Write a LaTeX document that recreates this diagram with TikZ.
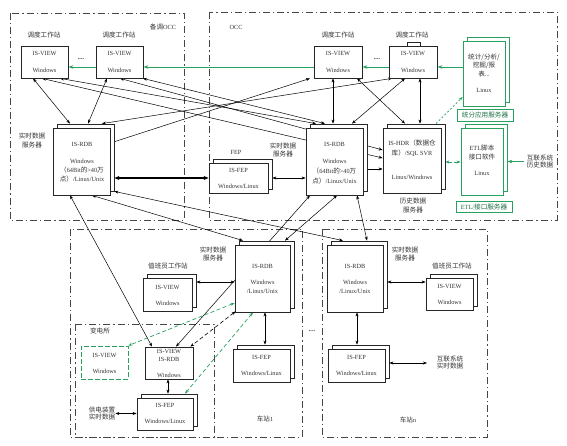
\documentclass[tikz,border=0pt]{standalone}
\usepackage{fontspec}
\setmainfont{Liberation Serif}
\newfontfamily\cjkfont{Noto Sans CJK SC}
\newcommand\zh[1]{{\cjkfont\fontsize{6.6}{7}\selectfont #1}}
\usetikzlibrary{arrows.meta}
\pgfdeclarelayer{bg}
\pgfsetlayers{bg,main}
\definecolor{grn}{RGB}{40,160,95}
\definecolor{reg}{RGB}{70,70,70}
\newcommand\bx[6]{\node[#1, minimum width=#5pt, minimum height=#6pt] (#2) at (#3,#4) {};}
\newcommand\stk[6]{\node[#1, minimum width=#5pt, minimum height=#6pt] (#2b) at (#3+4,#4-4) {};\node[#1, minimum width=#5pt, minimum height=#6pt] (#2) at (#3,#4) {};}
\tikzset{
 box/.style={draw=black!85, fill=white, line width=0.8pt, inner sep=0pt},
 gbox/.style={draw=grn, fill=white, line width=0.8pt, inner sep=0pt},
 gdbox/.style={draw=grn, fill=white, line width=0.9pt, inner sep=0pt, dash pattern=on 5pt off 2pt},
 txt/.style={inner sep=0pt, font=\fontsize{6.3}{7}\selectfont, text=black!80},
 region/.style={draw=reg, line width=0.8pt, dash pattern=on 7pt off 3pt on 1.2pt off 3pt},
 tip/.tip={Stealth[length=4pt,width=3pt]},
 arr/.style={line width=0.5pt, tip-tip},
 arrr/.style={line width=0.5pt, -tip},
 arrb/.style={line width=1.2pt, {Stealth[length=5pt,width=4pt]}-{Stealth[length=5pt,width=4pt]}},
 garr/.style={draw=grn, line width=0.8pt, -{Stealth[length=5pt,width=3.5pt]}, color=grn},
 gdot/.style={draw=grn, line width=0.7pt, dash pattern=on 2pt off 2pt, -{Stealth[length=4pt,width=3pt]}, color=grn},
 gdash/.style={draw=grn, line width=0.7pt, dash pattern=on 4pt off 2.5pt, tip-tip, color=grn},
 kdash/.style={draw=black, line width=0.6pt, dash pattern=on 4pt off 2.5pt, tip-tip},
}
\begin{document}
\begin{tikzpicture}[x=1pt,y=-1pt]
\useasboundingbox (0,0) rectangle (567,446);
% ---------- boxes ----------
\bx{box}{v1}{44.5}{62}{47}{32}
\bx{box}{v2}{119.5}{62}{47}{32}
\bx{box}{v3}{338}{62}{48}{32}
\node[box, minimum width=13pt, minimum height=4pt] (v4tab) at (413.5,44) {};
\bx{box}{v4}{413}{62}{48}{32}
\stk{gbox}{stats}{484}{73.5}{42}{65}
\node[gbox, minimum width=56pt, minimum height=12pt] (statl) at (485,115) {};
\stk{box}{rdbB}{81.5}{161.5}{57}{67}
\stk{box}{fepO}{238.5}{178}{59}{30}
\stk{box}{rdbO}{334.5}{161.5}{57}{67}
\stk{box}{hdr}{412}{160.5}{58}{65}
\stk{gbox}{etl}{482}{161.5}{42}{67}
\node[gbox, minimum width=56pt, minimum height=11pt] (etll) at (484,206.5) {};
\stk{box}{st1V}{167.5}{294.5}{49}{33}
\stk{box}{st1R}{262.5}{278.5}{55}{67}
\stk{box}{st1F}{261.5}{365.5}{57}{33}
\stk{box}{stnR}{355}{278.5}{56}{67}
\stk{box}{stnV}{449.5}{294}{47}{32}
\stk{box}{stnF}{356.5}{365.5}{57}{33}
\bx{gdbox}{subGV}{104.5}{362.5}{47}{33}
\bx{box}{subVR}{169}{363}{48}{32}
\stk{box}{subF}{165}{414}{56}{32}
% ---------- texts ----------
\node[txt] (bkl) at (163,27) {\zh{备调}OCC};
\node[txt] (occl) at (236,27) {OCC};
\node[txt] (w1l) at (44,35) {\zh{调度工作站}};
\node[txt] (w2l) at (119,35) {\zh{调度工作站}};
\node[txt] (w3l) at (338,35) {\zh{调度工作站}};
\node[txt] (w4l) at (412,35) {\zh{调度工作站}};
\foreach \n/\x in {v1/44.5, v2/119.5, v3/338, v4/413}{
 \node[txt] (\n t1) at (\x,53) {IS-VIEW};
 \node[txt] (\n t2) at (\x,70) {Windows};
}
\node[txt] (dotsA) at (81,59.5) {\textbf{....}};
\node[txt] (dotsB) at (377,59.5) {\textbf{....}};
\node[txt] (st1) at (484,57) {\zh{统计/分析/}};
\node[txt] (st2) at (484,65.5) {\zh{挖掘/报}};
\node[txt] (st3) at (484,74) {\zh{表}...};
\node[txt] (st4) at (484,90) {Linux};
\node[txt, text=grn!70!black] (statlt) at (statl) {\zh{统分应用服务器}};
\node[txt] (rbl1) at (32,136) {\zh{实时数据}};
\node[txt] (rbl2) at (32,145) {\zh{服务器}};
\node[txt] (rb1) at (82,144) {IS-RDB};
\node[txt] (rb2) at (82,161) {Windows};
\node[txt] (rb3) at (82,170) {\zh{（}64Bit\zh{的}\textgreater40\zh{万}};
\node[txt] (rb4) at (82,179) {\zh{点）}/Linux/Unix};
\node[txt] (fepl) at (236,152) {FEP};
\node[txt] (fo1) at (238.5,170) {IS-FEP};
\node[txt] (fo2) at (238.5,186) {Windows/Linux};
\node[txt] (rol1) at (283,146) {\zh{实时数据}};
\node[txt] (rol2) at (283,154) {\zh{服务器}};
\node[txt] (ro1) at (334.5,144) {IS-RDB};
\node[txt] (ro2) at (334.5,161) {Windows};
\node[txt] (ro3) at (334.5,171) {\zh{（}64Bit\zh{的}\textgreater40\zh{万}};
\node[txt] (ro4) at (334.5,181) {\zh{点）}/Linux/Unix};
\node[txt] (h1) at (412,143) {IS-HDR\zh{（数据仓}};
\node[txt] (h2) at (412,153) {\zh{库）}/SQL SVR};
\node[txt] (h3) at (412,177) {Linux/Windows};
\node[txt] (hl1) at (413,201) {\zh{历史数据}};
\node[txt] (hl2) at (413,210) {\zh{服务器}};
\node[txt] (e1) at (482,148) {ETL\zh{脚本}};
\node[txt] (e2) at (482,157) {\zh{接口软件}};
\node[txt] (e3) at (482,173) {Linux};
\node[txt, text=grn!70!black] (etllt) at (etll) {ETL/\zh{接口服务器}};
\node[txt, align=center] (hist) at (540,161.5) {\zh{互联系统}\\[-0.5pt]\zh{历史数据}};
% station 1
\node[txt] (s1l1) at (213,250) {\zh{实时数据}};
\node[txt] (s1l2) at (213,258) {\zh{服务器}};
\node[txt] (s1vl) at (168,266) {\zh{值班员工作站}};
\node[txt] (s1v1) at (167.5,287) {IS-VIEW};
\node[txt] (s1v2) at (167.5,303) {Windows};
\node[txt] (s1r1) at (262.5,266) {IS-RDB};
\node[txt] (s1r2) at (262.5,282) {Windows};
\node[txt] (s1r3) at (262.5,291) {/Linux/Unix};
\node[txt] (s1f1) at (261.5,357) {IS-FEP};
\node[txt] (s1f2) at (261.5,373) {Windows/Linux};
\node[txt] (s1name) at (265,419) {\zh{车站}1};
\node[txt] (dotsC) at (312,331) {\textbf{....}};
% station n
\node[txt] (snl1) at (405,250) {\zh{实时数据}};
\node[txt] (snl2) at (405,258) {\zh{服务器}};
\node[txt] (snvl) at (452,266) {\zh{值班员工作站}};
\node[txt] (snv1) at (449.5,286) {IS-VIEW};
\node[txt] (snv2) at (449.5,302) {Windows};
\node[txt] (snr1) at (355,266) {IS-RDB};
\node[txt] (snr2) at (355,282) {Windows};
\node[txt] (snr3) at (355,291) {/Linux/Unix};
\node[txt] (snf1) at (356.5,357) {IS-FEP};
\node[txt] (snf2) at (356.5,373) {Windows/Linux};
\node[txt, align=center] (rtx) at (450,362.5) {\zh{互联系统}\\[-0.5pt]\zh{实时数据}};
\node[txt] (snname) at (408,420) {\zh{车站}n};
% substation
\node[txt] (subl) at (100,331) {\zh{变电所}};
\node[txt] (sg1) at (104.5,355) {IS-VIEW};
\node[txt] (sg2) at (104.5,371) {Windows};
\node[txt] (sv1) at (169,351) {IS-VIEW};
\node[txt] (sv2) at (169,359) {IS-RDB};
\node[txt] (sv3) at (169,375) {Windows};
\node[txt] (sf1) at (165,405) {IS-FEP};
\node[txt] (sf2) at (165,421) {Windows/Linux};
\node[txt, align=center] (supply) at (102,413.5) {\zh{供电装置}\\[-0.5pt]\zh{实时数据}};
\coordinate (rtend) at (427,363);
% ---------- connectors & regions (behind) ----------
\begin{pgfonlayer}{bg}
\draw[region] (10,13) rectangle (184,220);
\draw[region] (209,12) rectangle (557,220);
\draw[region] (70,229) rectangle (302,437);
\draw[region] (322,229) rectangle (487,437);
\draw[region] (75,324) rectangle (214,437);
% views to servers
\draw[arr] (33,0 |- v1.south) -- (70,0 |- rdbBb.north);
\draw[arr] (107,0 |- v2.south) -- (88,0 |- rdbBb.north);
\draw[arr] (310,0 |- v3.south) -- (rdbB.east |- 0,143);
\draw[arr] (392,0 |- v4.south) -- (102,0 |- rdbBb.north);
\draw[arr] (60,0 |- v1.south) -- (316,0 |- rdbOb.north);
\draw[arr] (143,0 |- v2.south) -- (325,0 |- rdbOb.north);
\draw[arr] (333,0 |- v3.south) -- (333,0 |- rdbOb.north);
\draw[arr] (405,0 |- v4.south) -- (352,0 |- rdbOb.north);
\draw[arr] (420,0 |- v4.south) -- (420,0 |- hdrb.north);
\draw[arr] (357,0 |- v3.south) -- (405,0 |- hdrb.north);
\draw[arr] (42,0 |- v1.south) -- (hdr.west |- 0,158);
\draw[arr] (120,0 |- v2.south) -- (hdr.west |- 0,150);
% server links
\draw[arrb] (fepO.west) -- (rdbBb.east |- fepO.west);
\draw[arr] (fepOb.east |- fepO.center) -- (rdbO.west |- fepO.center);
\draw[arrr] (rdbOb.east |- 0,169) -- (hdr.west |- 0,169);
% green
\draw[garr] (stats.west |- 0,67) -- (v4.east |- 0,67);
\draw[garr] (v4.west |- 0,67) -- (v3.east |- 0,67);
\draw[garr] (v3.west |- 0,67) -- (v2.east |- 0,67);
\draw[garr] (v2.west |- 0,67) -- (v1.east |- 0,67);
\draw[gdot] (436,0 |- hdrb.north) -- (stats.west |- 0,97);
\draw[gdash] (hdrb.east |- 0,162) -- (etl.west |- 0,162);
\draw[garr] ([xshift=-3pt]hist.west) -- (etlb.east |- hist.west);
% down to stations
\draw[arr] (70,0 |- rdbB.south) -- (152,0 |- subVR.north);
\draw[arr] (92,0 |- rdbB.south) -- (243,0 |- st1Rb.north);
\draw[arr] (rdbBb.south east) -- (343,0 |- stnRb.north);
\draw[arr] (310,0 |- rdbO.south) -- (176,0 |- subVR.north);
\draw[arr] (337,0 |- rdbO.south) -- (285,0 |- st1Rb.north);
\draw[arr] (357,0 |- rdbO.south) -- (367,0 |- stnRb.north);
% stations
\draw[arr] (st1Vb.east |- 0,282) -- (st1R.west |- 0,282);
\draw[arr] (265,0 |- st1R.south) -- (265,0 |- st1Fb.north);
\draw[arr] (stnRb.east |- 0,282) -- (stnV.west |- 0,282);
\draw[arr] (357,0 |- stnR.south) -- (357,0 |- stnFb.north);
\draw[arr] (stnFb.east |- rtend) -- (rtend);
% substation
\draw[gdash] (st1R.west |- 0,303) -- (subGV.north east);
\draw[kdash] ([xshift=1pt,yshift=1pt]st1R.south west) -- ([xshift=-3pt]subVR.north east);
\draw[gdash] (253,0 |- st1R.south) -- (185,0 |- subFb.north);
\draw[arr] (168,0 |- subVR.south) -- (168,0 |- subFb.north);
\draw[arr] (supply.east) -- (subF.west |- supply.east);
\end{pgfonlayer}
\end{tikzpicture}
\end{document}
